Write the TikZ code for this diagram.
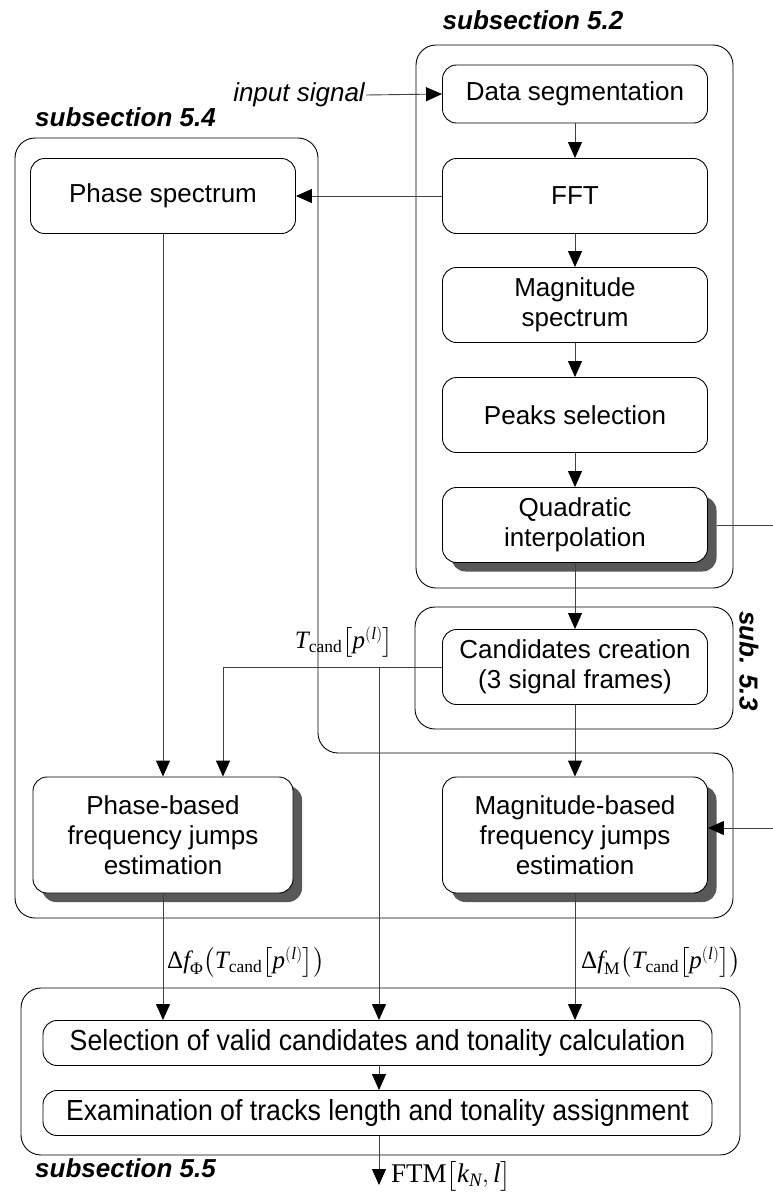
\documentclass[tikz,border=0pt]{standalone}
\usepackage{fontspec}
\usepackage{amsmath}
\usepackage{graphicx}
\setmainfont{Liberation Sans}
\newfontfamily\tnr{Liberation Serif}
\usetikzlibrary{arrows.meta,shadows,calc}
\definecolor{shadowc}{RGB}{88,88,88}
% upright and italic pieces of the formulas, set in a Times-like face
\newcommand\vi[1]{\text{\tnr\itshape #1}}
\newcommand\vr[1]{\text{\tnr #1}}

\begin{document}
\begin{tikzpicture}[x=1pt,y=-1pt,
  stage/.style={draw, rounded corners=14pt, fill=white, align=center, inner sep=0pt,
    minimum width=265pt, minimum height=75pt, font=\fontsize{26}{30}\selectfont, line width=0.9pt},
  wide/.style={stage, minimum width=669pt, minimum height=45pt},
  shaded/.style={drop shadow={shadow xshift=9pt, shadow yshift=-9pt, fill=shadowc, opacity=1}},
  group/.style={draw, rounded corners=20pt, line width=0.9pt},
  flow/.style={draw=black!75, line width=0.9pt, -{Triangle[length=16pt,width=14pt,color=black]}},
  link/.style={draw=black!75, line width=0.9pt},
  grouptitle/.style={font=\fontsize{26}{30}\selectfont\bfseries\itshape, inner sep=0pt},
  formula/.style={font=\fontsize{25}{28}\selectfont, inner sep=0pt},
]
\useasboundingbox (0,0) rectangle (773,1194);

% group outlines
\draw[group] (416,45) rectangle (733,588);
\draw[group] (415,607) rectangle (733,729);
\draw[group] (15,500) -- (15,138) -- (318,138) -- (318,753) -- (733,753) -- (733,918) -- (15,918) -- cycle;
\draw[group] (21,988) rectangle (740,1155);

% group titles
\node[grouptitle] (t52) at (533,20) {subsection 5.2};
\node[grouptitle, anchor=west] (t54) at (35,117) {subsection 5.4};
\node[grouptitle, rotate=-90] (t53) at (749,661) {sub. 5.3};
\node[grouptitle, anchor=west] (t55) at (35,1168) {subsection 5.5};

% processing stages
\node[stage, minimum height=58pt] (ds) at (575,94) {Data segmentation};
\node[stage] (fft) at (575,196) {FFT};
\node[stage] (mag) at (575,305) {Magnitude\\spectrum};
\node[stage] (peaks) at (575,415) {Peaks selection};
\node[stage, shaded] (quad) at (575,525) {Quadratic\\interpolation};
\node[stage] (cand) at (575,667) {Candidates creation\\(3 signal frames)};
\node[stage] (phs) at (163,196) {Phase spectrum};
\node[stage, shaded, minimum width=260pt, minimum height=116pt] (phb) at (163,835)
  {Phase-based\\frequency jumps\\estimation};
\node[stage, shaded, minimum height=116pt] (mgb) at (575,835)
  {Magnitude-based\\frequency jumps\\estimation};
\node[wide] (sel) at (377.5,1043)
  {\scalebox{0.92}[1]{\fontsize{29}{30}\selectfont Selection of valid candidates and tonality calculation}};
\node[wide] (exam) at (377.5,1113)
  {\scalebox{0.92}[1]{\fontsize{29}{30}\selectfont Examination of tracks length and tonality assignment}};

% free ends and junctions
\node[anchor=east, inner sep=1pt, font=\fontsize{26}{30}\selectfont\itshape] (inlab) at (366,95) {input signal};
\coordinate (qout) at (773,525);
\coordinate (min) at (773,828);
\coordinate (tj) at (379,667);
\coordinate (fout) at (379,1185);

% formula labels
\node[formula] (tc) at (344,642) {$\vi{T}_{\vr{cand}}\bigl[\vi{p}^{(\vi{l})}\bigr]$};
\node[formula, anchor=west] (dfp) at (167,962)
  {$\vr{Δ}\vi{f}_{\vr{Φ}}\bigl(\vi{T}_{\vr{cand}}\bigl[\vi{p}^{(\vi{l})}\bigr]\bigr)$};
\node[formula, anchor=west] (dfm) at (581,962)
  {$\vr{Δ}\vi{f}_{\vr{M}}\bigl(\vi{T}_{\vr{cand}}\bigl[\vi{p}^{(\vi{l})}\bigr]\bigr)$};
\node[formula, anchor=west, font=\fontsize{27}{30}\selectfont] (ftm) at (391,1176)
  {$\vr{FTM}\bigl[\vi{k}_{\vi{N}},\vi{l}\bigr]$};

% connectors
\draw[flow] (inlab.east) -- (ds.west);
\draw[flow] (ds.south) -- (fft.north);
\draw[flow] (fft.west) -- (phs.east);
\draw[flow] (fft.south) -- (mag.north);
\draw[flow] (mag.south) -- (peaks.north);
\draw[flow] (peaks.south) -- (quad.north);
\draw[flow] (quad.south) -- (cand.north);
\draw[link] ([xshift=9pt]quad.east) -- (qout);
\draw[flow] (cand.south) -- (mgb.north);
\draw[flow] (cand.west) -| ([xshift=60pt]phb.north);
\draw[flow] (tj) -- (tj |- sel.north);
\draw[flow] (phs.south) -- (phb.north);
\draw[flow] (min) -- (mgb.east |- min);
\draw[flow] (phb.south) -- (phb.south |- sel.north);
\draw[flow] (mgb.south) -- (mgb.south |- sel.north);
\draw[flow] (sel.south -| tj) -- (exam.north -| tj);
\draw[flow] (exam.south -| tj) -- (fout);
\end{tikzpicture}
\end{document}
